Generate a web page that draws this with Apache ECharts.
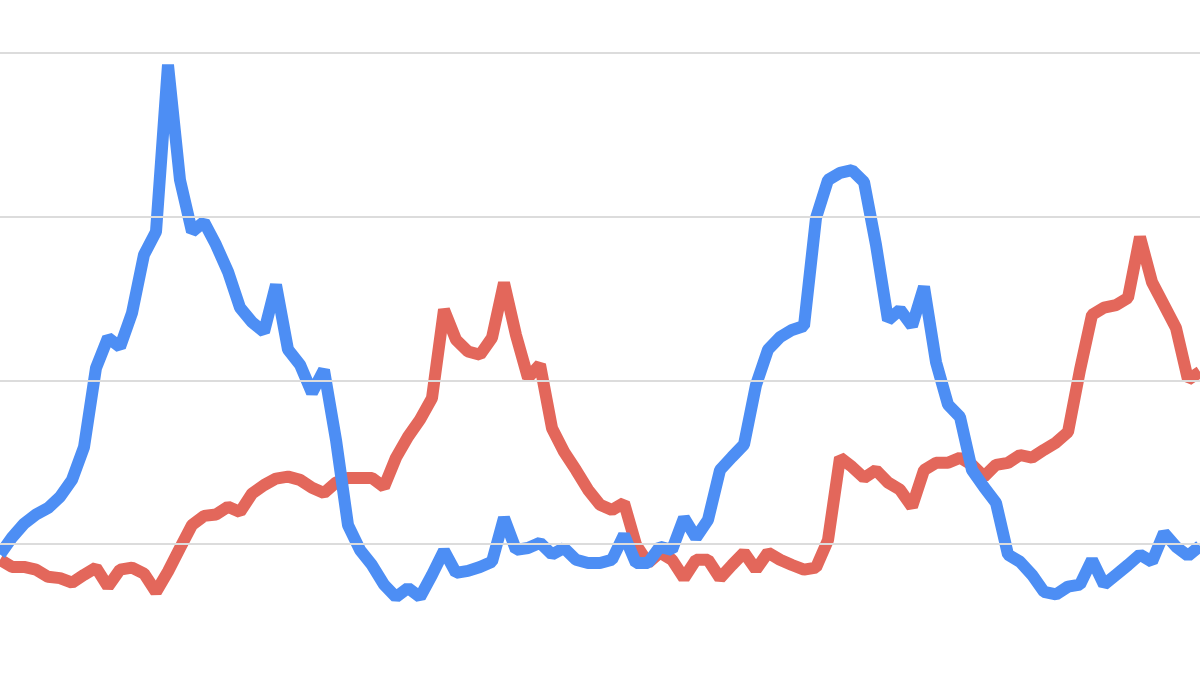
<!DOCTYPE html>
<html>
<head>
<meta charset="utf-8">
<style>
  html, body { margin: 0; padding: 0; background: #ffffff; }
  #chart { width: 1200px; height: 675px; }
</style>
<script src="https://cdn.jsdelivr.net/npm/echarts@6/dist/echarts.min.js"></script>
</head>
<body>
<div id="chart"></div>
<script>
// Weekly index values (0-100 scale)
const weeks = Array.from({ length: 101 }, (_, i) => 'W' + (i + 1));

const blueSeries = [
  23.4, 26.0, 28.1, 29.5, 30.5, 32.2, 34.8, 39.8, 51.9, 56.5,
  55.1, 60.3, 69.2, 72.7, 98.2, 80.6, 72.7, 74.2, 70.7, 66.6,
  61.1, 58.9, 57.4, 64.6, 54.7, 52.4, 48.1, 51.6, 40.9, 27.9,
  24.1, 21.8, 18.8, 16.9, 18.3, 16.9, 20.3, 24.0, 20.6, 20.9,
  21.5, 22.3, 29.0, 24.1, 24.4, 25.2, 23.4, 24.4, 22.6, 22.1,
  22.1, 22.6, 26.4, 22.1, 22.1, 24.6, 24.1, 29.0, 26.0, 28.7,
  36.3, 38.3, 40.2, 49.3, 54.7, 56.6, 57.7, 58.3, 74.8, 80.6,
  81.7, 82.1, 80.3, 70.7, 59.2, 60.8, 58.3, 64.3, 52.8, 46.3,
  44.4, 36.3, 33.7, 31.3, 23.4, 22.3, 20.3, 17.7, 17.3, 18.5,
  18.8, 22.6, 18.8, 20.3, 21.8, 23.4, 22.3, 26.7, 24.6, 23.2,
  24.7
];

const redSeries = [
  22.6, 21.5, 21.5, 21.1, 20.0, 19.8, 19.1, 20.3, 21.4, 18.5,
  21.1, 21.4, 20.5, 17.7, 20.8, 24.4, 27.9, 29.3, 29.5, 30.7,
  29.9, 32.7, 34.0, 35.0, 35.3, 34.8, 33.6, 32.8, 34.4, 35.1,
  35.1, 35.1, 33.7, 38.2, 41.4, 44.0, 47.3, 60.8, 56.2, 54.4,
  53.9, 56.5, 64.9, 56.9, 50.4, 52.4, 42.7, 39.1, 36.3, 33.3,
  31.0, 30.2, 31.3, 24.9, 22.1, 23.7, 22.6, 19.8, 22.6, 22.6,
  19.8, 21.8, 23.7, 21.1, 23.7, 22.6, 21.8, 21.1, 21.4, 25.6,
  38.2, 36.8, 35.1, 36.3, 34.4, 33.3, 30.7, 36.3, 37.4, 37.4,
  38.2, 37.1, 35.3, 37.1, 37.4, 38.6, 38.2, 39.4, 40.5, 42.1,
  51.6, 60.0, 61.1, 61.5, 62.6, 71.9, 65.0, 61.5, 58.0, 50.1,
  51.3
];

// Horizontal gridline values (the visible part of a 0-100 scale)
const gridValues = [25, 50, 75, 100];
const yMin = 5;
const yMax = 100;

const chart = echarts.init(document.getElementById('chart'), null, { renderer: 'canvas' });
chart.setOption({
  animation: false,
  backgroundColor: '#ffffff',
  grid: { left: 0, right: 0, top: 53, bottom: 0, containLabel: false },
  xAxis: {
    type: 'category',
    data: weeks,
    boundaryGap: false,
    show: false
  },
  yAxis: {
    type: 'value',
    min: yMin,
    max: yMax,
    axisLine: { show: false },
    axisTick: { show: false },
    axisLabel: { show: false },
    splitLine: { show: false }
  },
  series: [
    {
      name: 'grid',
      type: 'line',
      data: [],
      symbol: 'none',
      silent: true,
      z: 1,
      markLine: {
        silent: true,
        symbol: ['none', 'none'],
        label: { show: false },
        lineStyle: { color: '#dcdcdc', width: 2, type: 'solid' },
        emphasis: { disabled: true },
        data: gridValues.map(v => ({ yAxis: v }))
      }
    },
    {
      name: 'Red',
      type: 'line',
      data: redSeries,
      symbol: 'none',
      clip: false,
      lineStyle: { color: '#e3675b', width: 12, join: 'bevel' },
      z: 2
    },
    {
      name: 'Blue',
      type: 'line',
      data: blueSeries,
      symbol: 'none',
      clip: false,
      lineStyle: { color: '#4d8ef4', width: 12, join: 'bevel' },
      z: 3
    }
  ]
});
</script>
</body>
</html>
